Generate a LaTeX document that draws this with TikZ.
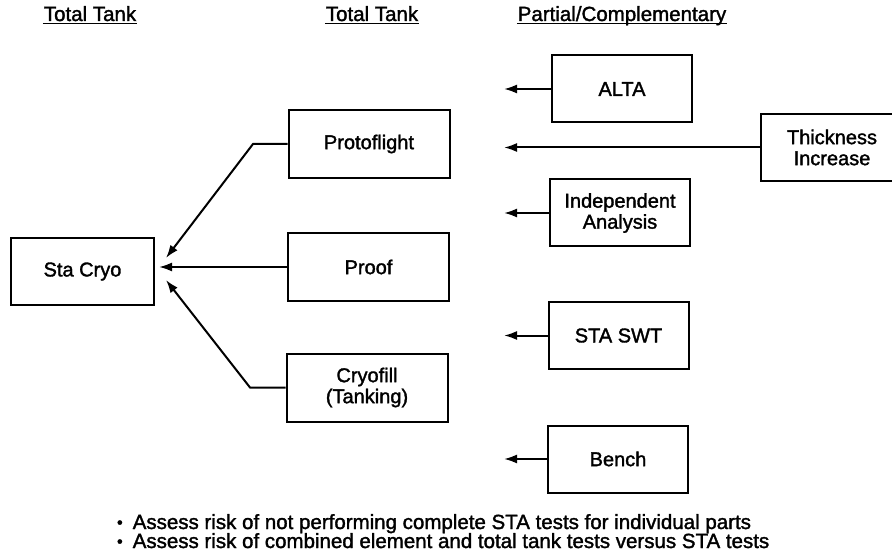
\documentclass[tikz,border=0pt]{standalone}
\usepackage{fontspec}
\setmainfont{Liberation Sans}
\newfontfamily\scanfont{Liberation Sans}[BoldFont=Liberation Sans, BoldFeatures={FakeBold=1.6}]
\usetikzlibrary{arrows.meta}

\begin{document}
\begin{tikzpicture}[
  x=1pt, y=-1pt, line width=2pt,
  box/.style={draw, line width=2pt, align=center, inner sep=2pt,
    font=\scanfont\bfseries\fontsize{20}{21}\selectfont},
  wide/.style={box, minimum width=161pt, minimum height=68pt},
  narrow/.style={box, minimum width=140pt, minimum height=67pt},
  feed/.style={draw, line width=2pt, -{Latex[length=13pt,width=9pt]}},
  head/.style={font=\scanfont\bfseries\fontsize{20.5}{21}\selectfont, anchor=base, inner sep=0pt},
  note/.style={font=\scanfont\bfseries\fontsize{20.5}{21}\selectfont, anchor=base west, inner sep=0pt},
]
  \useasboundingbox (0,0) rectangle (892,556);

  % Column heads, underlined by hand so the rule sits at one height.
  \node[head] (headl) at (90,21) {\smash{Total Tank}};
  \node[head] (headm) at (372,21) {\smash{Total Tank}};
  \node[head] (headr) at (622,21) {\smash{Partial/Complementary}};
  \foreach \h in {headl,headm,headr}
    \draw[line width=1.6pt] ([yshift=-2.5pt]\h.base west) -- ([yshift=-2.5pt]\h.base east);

  % Left: the total tank tests and what they feed.
  \node[box, minimum width=143pt, minimum height=67pt] (stacryo) at (82.5,271.5) {Sta Cryo};
  \node[wide] (protoflight) at (369,144) {Protoflight};
  \node[wide] (proof) at (368.5,267) {Proof};
  \node[wide] (cryofill) at (367,387.5) {Cryofill\\(Tanking)};

  \coordinate (pfbend) at (253,144);
  \coordinate (pftip) at (166,258);
  \coordinate (prtip) at (159,267);
  \coordinate (cfbend) at (250,387.5);
  \coordinate (cftip) at (166,280);
  \draw[feed] (protoflight.west) -- (pfbend) -- (pftip);
  \draw[feed] (proof.west) -- (prtip);
  \draw[feed] (cryofill.west) -- (cfbend) -- (cftip);

  % Right: partial / complementary tests, each with a short lead.
  \node[narrow] (alta) at (622,89) {ALTA};
  \node[narrow, minimum width=142pt] (thick) at (832,147.5) {Thickness\\Increase};
  \node[narrow] (indep) at (620,213) {Independent\\Analysis};
  \node[narrow] (staswt) at (618.5,335.5) {STA SWT};
  \node[narrow] (bench) at (618,459) {Bench};

  \coordinate (tipline) at (504,0);
  \foreach \b in {alta,thick,indep,staswt,bench}
    \draw[feed] (\b.west) -- (\b.west -| tipline);

  % Notes.
  \node[note] (risk1) at (116,529)
    {\raisebox{1pt}{\scalebox{0.8}{\textbullet}}\hspace{10pt}Assess risk of not performing complete STA tests for individual parts};
  \node[note] (risk2) at (116,548)
    {\raisebox{1pt}{\scalebox{0.8}{\textbullet}}\hspace{10pt}Assess risk of combined element and total tank tests versus STA tests};
\end{tikzpicture}
\end{document}
